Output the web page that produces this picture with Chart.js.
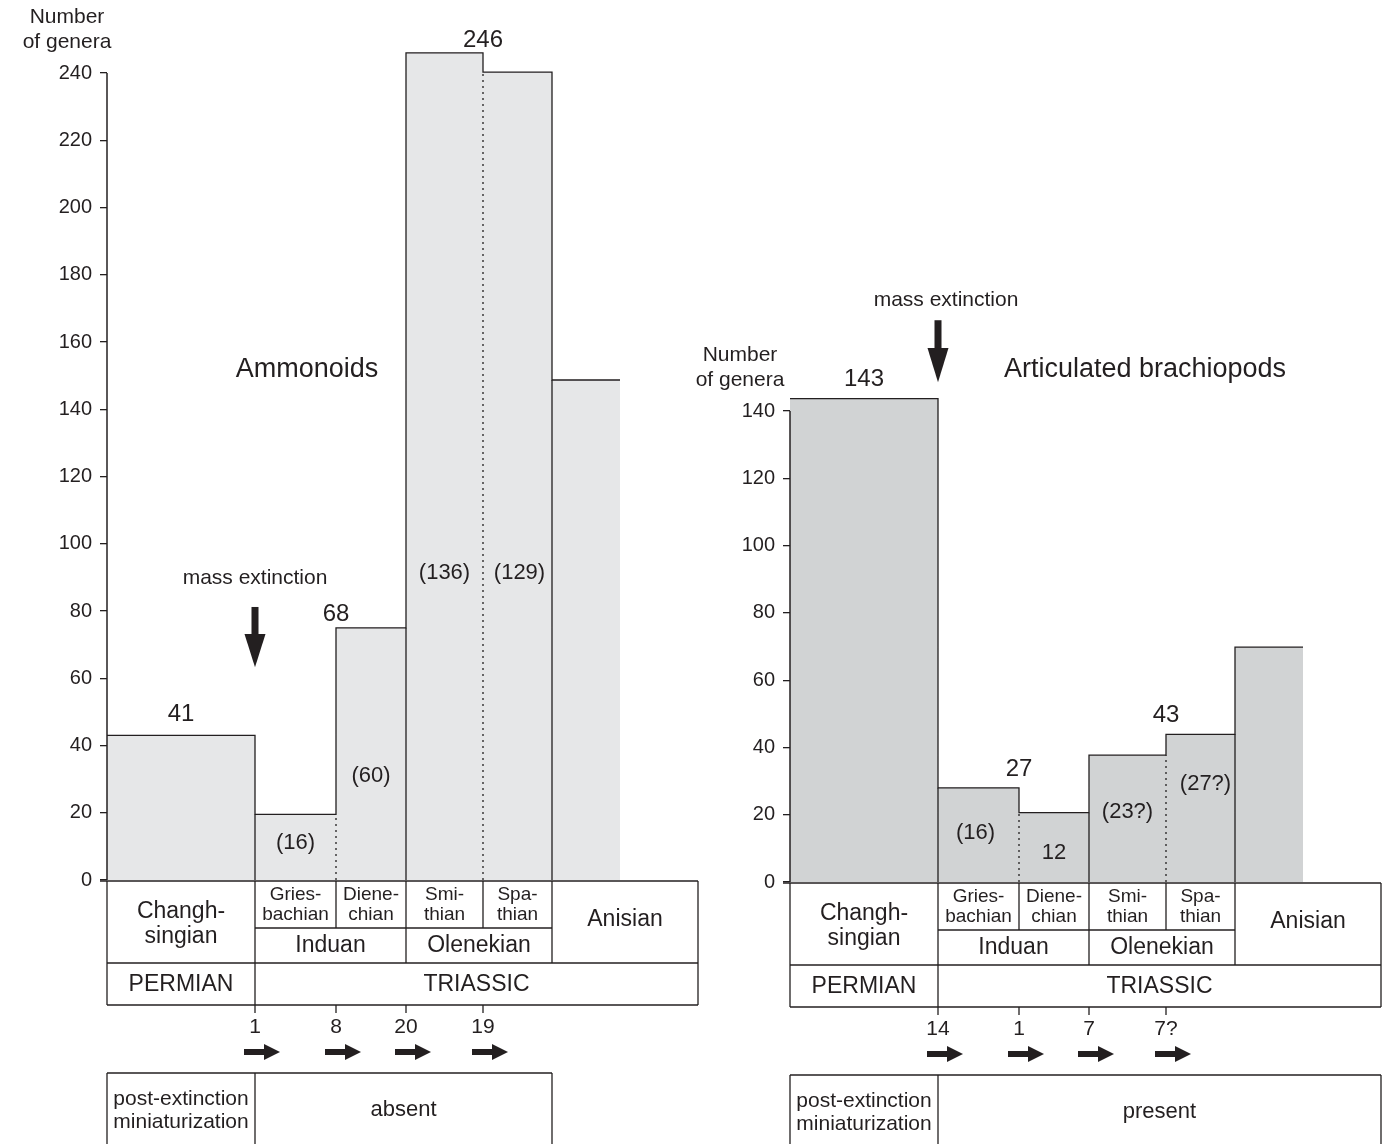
<!DOCTYPE html>
<html>
<head>
<meta charset="utf-8">
<script src="https://cdn.jsdelivr.net/npm/chart.js@4.4.0/dist/chart.umd.min.js"></script>
<style>
body { margin: 0; background: #fff; }
#wrap { position: relative; width: 1383px; height: 1144px; overflow: hidden; }
canvas { position: absolute; top: 0; }
</style>
</head>
<body>
<div id="wrap">
  <canvas id="ammo" width="705" height="1144" style="left:0"></canvas>
  <canvas id="brach" width="693" height="1144" style="left:690px"></canvas>
</div>
<script>
// substages along the time axis, with their relative widths on the figure
const stageLabels = [['Changh-', 'singian'], ['Gries-', 'bachian'], ['Diene-', 'chian'], ['Smi-', 'thian'], ['Spa-', 'thian'], ['Anisian']];
const stageGroup = ['Changhsingian', 'Induan', 'Induan', 'Olenekian', 'Olenekian', 'Anisian'];
const stageWidths = [148, 81, 70, 77, 69, 68];
const tableTail = 78;
const seriesLabels = ['Induan', 'Olenekian'];
const periodLabels = ['PERMIAN', 'TRIASSIC'];

// genera per substage, as drawn
const ammonoidGenera = [43, 19.5, 75, 246, 240.3, 148.7];
const brachiopodGenera = [143.7, 28, 20.6, 37.7, 43.9, 69.8];

// stage totals written above the bars (Changhsingian, Induan, Olenekian)
const ammonoidTotals = ['41', '68', '246'];
const brachiopodTotals = ['143', '27', '43'];

// counts written inside the Early Triassic bars
const ammonoidInner = ['(16)', '(60)', '(136)', '(129)'];
const brachiopodInner = ['(16)', '12', '(23?)', '(27?)'];

// numbers at the substage boundaries
const ammonoidBoundary = ['1', '8', '20', '19'];
const brachiopodBoundary = ['14', '1', '7', '7?'];

// y tick labels
const ammonoidTicks = [0, 20, 40, 60, 80, 100, 120, 140, 160, 180, 200, 220, 240];
const brachiopodTicks = [0, 20, 40, 60, 80, 100, 120, 140];

const ink = '#231f20';
const font = '"Liberation Sans", Arial, Helvetica, sans-serif';
Chart.defaults.font.family = font;
Chart.defaults.color = ink;

const edges = [0];
stageWidths.forEach(w => edges.push(edges[edges.length - 1] + w));
const xMax = edges[edges.length - 1] + tableTail;

function stepData(h) {
  const pts = h.map((v, i) => ({ x: edges[i], y: v }));
  pts.push({ x: edges[h.length], y: h[h.length - 1] });
  return pts;
}

function separators(h, dotted) {
  const pts = [];
  for (let i = 1; i < h.length; i++) {
    const inner = stageGroup[i - 1] === stageGroup[i];
    if (inner !== dotted) continue;
    pts.push({ x: edges[i], y: 0 }, { x: edges[i], y: Math.min(h[i - 1], h[i]) }, { x: edges[i], y: null });
  }
  return pts;
}

function downArrow(ctx, x, y0, y1) {
  const headL = (y1 - y0) * 0.55;
  ctx.fillRect(x - 3.5, y0, 7, y1 - y0 - headL + 1);
  ctx.beginPath();
  ctx.moveTo(x - 10.5, y1 - headL);
  ctx.lineTo(x + 10.5, y1 - headL);
  ctx.lineTo(x, y1);
  ctx.closePath();
  ctx.fill();
}

function rightArrow(ctx, x0, x1, y) {
  ctx.fillRect(x0, y - 3, x1 - x0 - 15, 6);
  ctx.beginPath();
  ctx.moveTo(x1 - 16, y - 8);
  ctx.lineTo(x1 - 16, y + 8);
  ctx.lineTo(x1, y);
  ctx.closePath();
  ctx.fill();
}

function line(ctx, x0, y0, x1, y1) {
  ctx.beginPath();
  ctx.moveTo(x0, y0);
  ctx.lineTo(x1, y1);
  ctx.stroke();
}

function extras(cfg) {
  return {
    id: 'extras',
    afterDatasetsDraw(chart) {
      const { ctx, chartArea: ca } = chart;
      const X = v => chart.scales.x.getPixelForValue(v);
      const Y = v => chart.scales.y.getPixelForValue(v);
      const E = edges.map(X);
      const mid = (a, b) => (a + b) / 2;
      ctx.save();
      ctx.fillStyle = ink;
      ctx.strokeStyle = ink;
      ctx.textAlign = 'center';
      ctx.textBaseline = 'middle';

      // axis title
      const topY = Y(cfg.ticks[cfg.ticks.length - 1]);
      ctx.font = '21px ' + font;
      ctx.fillText('Number', ca.left - cfg.axisTitleDx, topY - 56);
      ctx.fillText('of genera', ca.left - cfg.axisTitleDx, topY - 31);

      // group title
      ctx.font = '27px ' + font;
      ctx.fillText(cfg.title, X(cfg.titleAt[0]), Y(cfg.titleAt[1]));

      // mass extinction marker at the Permian/Triassic boundary
      ctx.font = '21px ' + font;
      ctx.fillText('mass extinction', E[1] + cfg.extinctionDx, Y(cfg.extinction[0]));
      downArrow(ctx, E[1], Y(cfg.extinction[1]), Y(cfg.extinction[2]));

      // stage totals
      ctx.font = '24px ' + font;
      const h = cfg.genera;
      const totalX = [mid(E[0], E[1]), E[2], E[4]];
      const totalTop = [h[0], Math.max(h[1], h[2]), Math.max(h[3], h[4])];
      cfg.totals.forEach((t, i) => ctx.fillText(t, totalX[i], Y(totalTop[i]) - cfg.totalLift[i]));

      // inner counts
      ctx.font = '22px ' + font;
      cfg.inner.forEach((t, i) => ctx.fillText(t, mid(E[i + 1], E[i + 2]) + cfg.innerDx[i], Y(cfg.innerY[i])));

      // stratigraphic table
      const b = ca.bottom, L = ca.left, R = ca.right;
      ctx.lineWidth = 1.3;
      line(ctx, L - 7, b + 1, R, b + 1);
      line(ctx, E[1], b + 48, E[5], b + 48);
      line(ctx, L, b + 83, R, b + 83);
      line(ctx, L, b + 125, R, b + 125);
      line(ctx, L, b + 1, L, b + 125);
      line(ctx, R, b + 1, R, b + 125);
      line(ctx, E[1], b + 1, E[1], b + 133);
      line(ctx, E[2], b + 1, E[2], b + 48);
      line(ctx, E[3], b + 1, E[3], b + 83);
      line(ctx, E[4], b + 1, E[4], b + 48);
      line(ctx, E[5], b + 1, E[5], b + 83);
      [2, 3, 4].forEach(i => line(ctx, E[i], b + 125, E[i], b + 133));

      ctx.font = '23px ' + font;
      ctx.fillText(stageLabels[0][0], mid(L, E[1]), b + 32);
      ctx.fillText(stageLabels[0][1], mid(L, E[1]), b + 57);
      ctx.fillText(stageLabels[5][0], mid(E[5], R), b + 40);
      ctx.fillText(seriesLabels[0], mid(E[1], E[3]), b + 66);
      ctx.fillText(seriesLabels[1], mid(E[3], E[5]), b + 66);
      ctx.fillText(periodLabels[0], mid(L, E[1]), b + 105);
      ctx.fillText(periodLabels[1], mid(E[1], R), b + 105);
      ctx.font = '19px ' + font;
      for (let i = 1; i <= 4; i++) {
        ctx.fillText(stageLabels[i][0], mid(E[i], E[i + 1]), b + 15);
        ctx.fillText(stageLabels[i][1], mid(E[i], E[i + 1]), b + 35);
      }

      // boundary numbers and arrows
      ctx.font = '21px ' + font;
      cfg.boundary.forEach((t, i) => {
        ctx.fillText(t, E[i + 1], b + 147);
        rightArrow(ctx, E[i + 1] - 11, E[i + 1] + 25, b + 172);
      });

      // miniaturization box
      const boxR = cfg.boxToEnd ? R : E[5];
      const bt = b + 193, bb = chart.height + 5;
      line(ctx, L, bt, boxR, bt);
      line(ctx, L, bt, L, bb);
      line(ctx, E[1], bt, E[1], bb);
      line(ctx, boxR, bt, boxR, bb);
      ctx.font = '21px ' + font;
      ctx.fillText('post-extinction', mid(L, E[1]), b + 219);
      ctx.fillText('miniaturization', mid(L, E[1]), b + 242);
      ctx.font = '22px ' + font;
      ctx.fillText(cfg.miniLabel, mid(E[1], boxR), b + 230);
      ctx.restore();
    }
  };
}

function makeChart(id, cfg) {
  const h = cfg.genera;
  new Chart(document.getElementById(id), {
    type: 'line',
    data: {
      datasets: [
        { data: [{ x: 0, y: 0 }, { x: 0, y: cfg.ticks[cfg.ticks.length - 1] }], borderColor: ink, borderWidth: 1.5, pointRadius: 0, clip: false },
        { data: separators(h, false), borderColor: ink, borderWidth: 1.3, pointRadius: 0, clip: false },
        { data: separators(h, true), borderColor: ink, borderWidth: 1.3, borderDash: [2, 4], pointRadius: 0, clip: false },
        { data: stepData(h), stepped: true, borderColor: ink, borderWidth: 1.3, backgroundColor: cfg.fill, fill: 'origin', pointRadius: 0, clip: false }
      ]
    },
    options: {
      responsive: false,
      animation: false,
      layout: { padding: cfg.padding },
      plugins: { legend: { display: false }, tooltip: { enabled: false } },
      scales: {
        x: { type: 'linear', min: 0, max: xMax, display: false },
        y: {
          min: 0, max: cfg.yMax,
          afterFit: s => { s.width = cfg.axisWidth; },
          afterBuildTicks: s => { s.ticks = cfg.ticks.map(v => ({ value: v })); },
          border: { display: false },
          grid: { drawOnChartArea: false, tickLength: 7, color: ink, lineWidth: 1.3 },
          ticks: { autoSkip: false, padding: 8, color: ink, font: { size: 20 } }
        }
      }
    },
    plugins: [extras(cfg)]
  });
}

makeChart('ammo', {
  genera: ammonoidGenera, totals: ammonoidTotals, inner: ammonoidInner, boundary: ammonoidBoundary, ticks: ammonoidTicks,
  title: 'Ammonoids', titleAt: [200, 151.7], extinction: [89.8, 81.2, 63.3], extinctionDx: 0,
  totalLift: [21, 13, 12], innerY: [11, 31, 91.3, 91.3], innerDx: [0, 0, 0, 2],
  fill: '#e6e7e8', miniLabel: 'absent', boxToEnd: false,
  yMax: 247, axisWidth: 107, axisTitleDx: 40,
  padding: { left: 0, top: 49.5, right: 7, bottom: 264 }
});

makeChart('brach', {
  genera: brachiopodGenera, totals: brachiopodTotals, inner: brachiopodInner, boundary: brachiopodBoundary, ticks: brachiopodTicks,
  title: 'Articulated brachiopods', titleAt: [355, 152.2], extinction: [173, 167, 148.6], extinctionDx: 8,
  totalLift: [19, 18, 19], innerY: [14.6, 8.6, 20.8, 29.1], innerDx: [-3, 0, 0, 5],
  fill: '#d1d3d4', miniLabel: 'present', boxToEnd: true,
  yMax: 144, axisWidth: 100, axisTitleDx: 50,
  padding: { left: 0, top: 397.6, right: 2, bottom: 262 }
});
</script>
</body>
</html>
